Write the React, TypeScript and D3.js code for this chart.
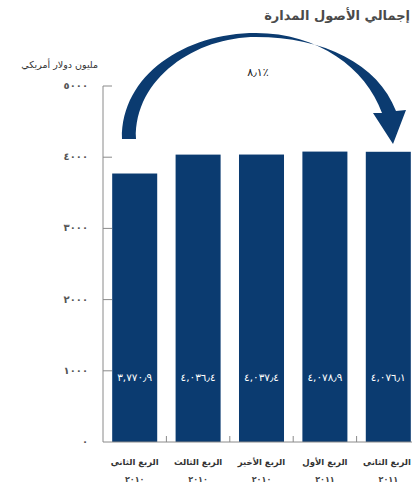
import React from "react";
import * as d3 from "d3";

const categories = ["الربع الثاني", "الربع الثالث", "الربع الأخير", "الربع الأول", "الربع الثاني"];
const years = ["٢٠١٠", "٢٠١٠", "٢٠١٠", "٢٠١١", "٢٠١١"];
const values = [3770.9, 4036.4, 4037.4, 4078.9, 4076.1];
const valueLabels = ["٣,٧٧٠٫٩", "٤,٠٣٦٫٤", "٤,٠٣٧٫٤", "٤,٠٧٨٫٩", "٤,٠٧٦٫١"];
const tickValues = [0, 1000, 2000, 3000, 4000, 5000];
const tickLabels = ["٠", "١٠٠٠", "٢٠٠٠", "٣٠٠٠", "٤٠٠٠", "٥٠٠٠"];
const title = "إجمالي الأصول المدارة";
const unitLabel = "مليون دولار أمريكي";
const growthLabel = "٨٫١٪";

const W = 412;
const H = 486;
const NAVY = "#0b3b70";
const AXIS = "#8a8a8a";
const FONT = "'DejaVu Sans', sans-serif";

export default function App() {
  const x0 = 103;
  const x1 = 420;
  const y0 = 442;
  const yTop = 86;
  const x = d3.scaleBand<number>().domain(d3.range(values.length)).range([x0, x1]).paddingInner(0.29).paddingOuter(0.145);
  const y = d3.scaleLinear().domain([0, 5000]).range([y0, yTop]);
  const step = x.step();

  const arrowPath = (() => {
    const p = d3.path();
    p.moveTo(122, 139);
    p.bezierCurveTo(121, 75, 185, 33, 256, 33);
    p.bezierCurveTo(318, 33, 366, 68, 382, 113);
    p.lineTo(373, 113);
    p.lineTo(393, 144);
    p.lineTo(406, 110);
    p.lineTo(396, 111);
    p.bezierCurveTo(378, 64, 324, 37, 256, 37);
    p.bezierCurveTo(196, 37, 134, 78, 136, 139);
    p.closePath();
    return p.toString();
  })();

  return (
    <div style={{ position: "absolute", left: 0, top: 0 }}>
      <svg width={W} height={H} style={{ display: "block", fontFamily: FONT }}>
        <rect width={W} height={H} fill="#fff" />
        <text x={410} y={20} textAnchor="end" fontSize={13} fontWeight="bold" fill="#4a4a4a">{title}</text>
        <text x={98} y={68} textAnchor="end" fontSize={9.5} fill="#333">{unitLabel}</text>

        <path d={arrowPath} fill={NAVY} />
        <text x={258} y={76} textAnchor="middle" fontSize={11} fill="#222">{growthLabel}</text>

        {/* y axis */}
        <line x1={x0} x2={x0} y1={yTop} y2={y0} stroke={AXIS} strokeWidth={1} />
        {tickValues.map((t, i) => (
          <g key={"t" + i}>
            {t > 0 && <line x1={x0} x2={x0 + 9} y1={y(t)} y2={y(t)} stroke={AXIS} strokeWidth={1} />}
            <text x={88} y={y(t) + 3} textAnchor="end" fontSize={10} fontWeight="bold" fill="#555">{tickLabels[i]}</text>
          </g>
        ))}

        {/* bars */}
        {values.map((v, i) => (
          <g key={"b" + i}>
            <rect x={x(i)} y={y(v)} width={x.bandwidth()} height={y0 - y(v)} fill={NAVY} />
            <text x={(x(i) as number) + x.bandwidth() / 2} y={381} textAnchor="middle" fontSize={10.5} fill="#fff">{valueLabels[i]}</text>
            <text x={Math.min((x(i) as number) + x.bandwidth() / 2, 387)} y={465} textAnchor="middle" fontSize={8.5} fontWeight="bold" fill="#333">{categories[i]}</text>
            <text x={(x(i) as number) + x.bandwidth() / 2} y={482} textAnchor="middle" fontSize={8} fontWeight="bold" fill="#444">{years[i]}</text>
          </g>
        ))}

        {/* x baseline */}
        <line x1={x0} x2={W} y1={y0} y2={y0} stroke={AXIS} strokeWidth={1} />
        {d3.range(1, values.length).map((i) => (
          <line key={"s" + i} x1={x0 + step * i} x2={x0 + step * i} y1={y0} y2={y0 - 6} stroke={AXIS} strokeWidth={1} />
        ))}
      </svg>
    </div>
  );
}
